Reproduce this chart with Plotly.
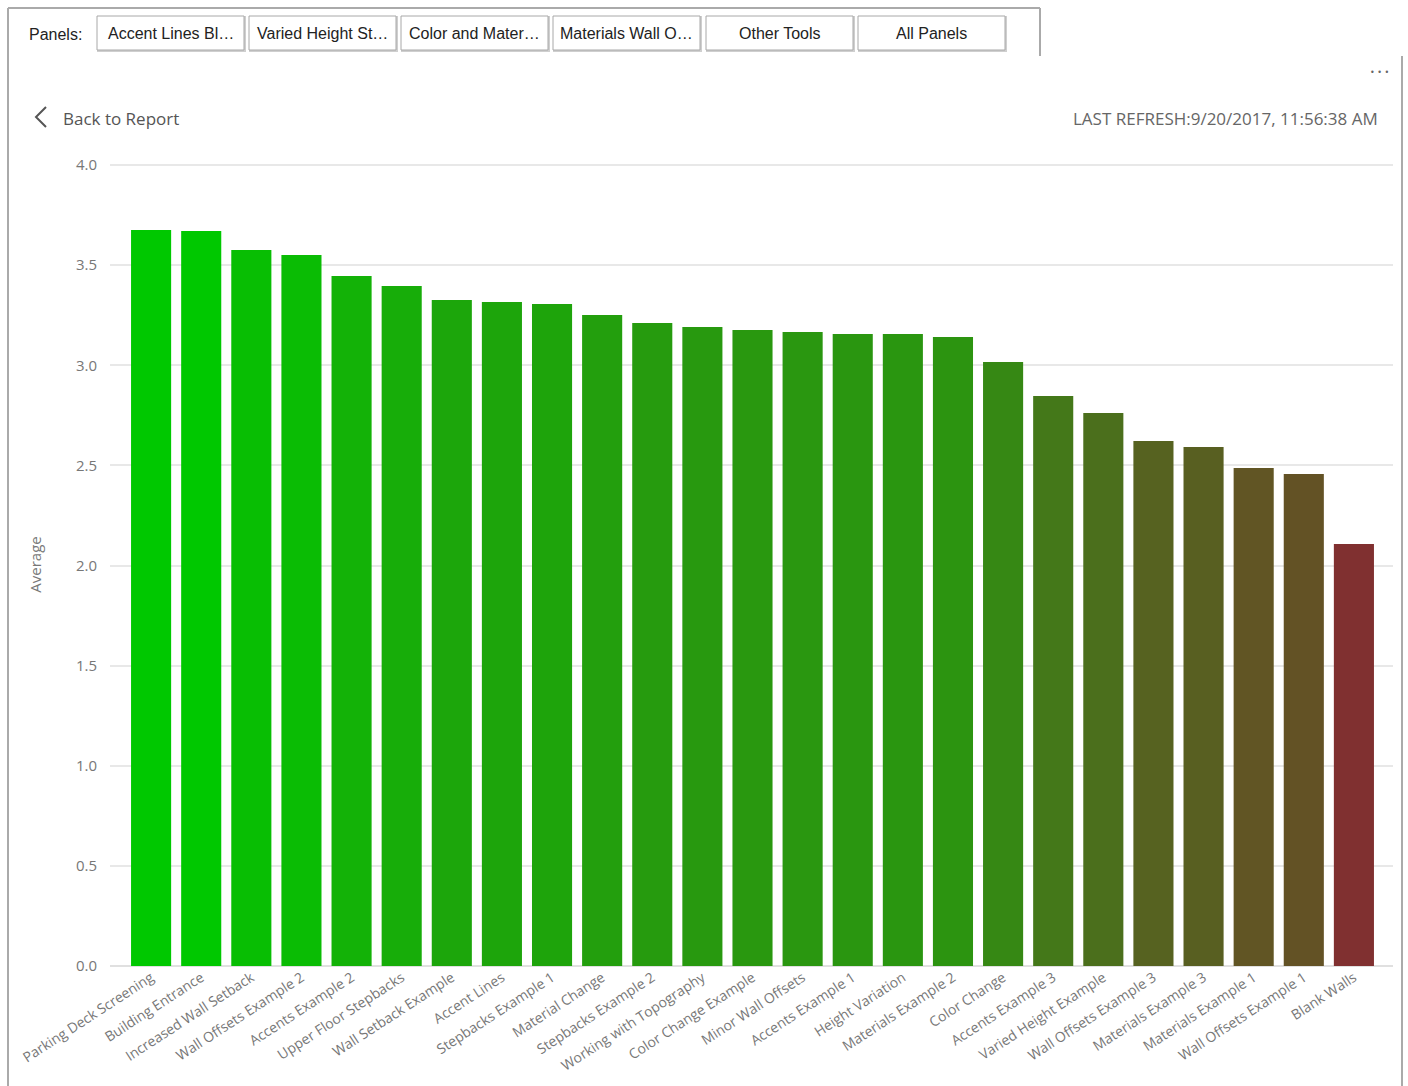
import plotly.graph_objects as go

categories = [
    "Parking Deck Screening", "Building Entrance", "Increased Wall Setback",
    "Wall Offsets Example 2", "Accents Example 2", "Upper Floor Stepbacks",
    "Wall Setback Example", "Accent Lines", "Stepbacks Example 1",
    "Material Change", "Stepbacks Example 2", "Working with Topography",
    "Color Change Example", "Minor Wall Offsets", "Accents Example 1",
    "Height Variation", "Materials Example 2", "Color Change",
    "Accents Example 3", "Varied Height Example", "Wall Offsets Example 3",
    "Materials Example 3", "Materials Example 1", "Wall Offsets Example 1",
    "Blank Walls",
]
averages = [
    3.675, 3.670, 3.575, 3.550, 3.446, 3.396, 3.326, 3.316, 3.306,
    3.251, 3.211, 3.191, 3.176, 3.166, 3.156, 3.156, 3.141, 3.016,
    2.846, 2.761, 2.622, 2.592, 2.487, 2.457, 2.107,
]
y_ticks = [0.0, 0.5, 1.0, 1.5, 2.0, 2.5, 3.0, 3.5, 4.0]
panel_buttons = ["Accent Lines Bl…", "Varied Height St…", "Color and Mater…",
                 "Materials Wall O…", "Other Tools", "All Panels"]

W, H = 1408, 1086
ML, MR, MT, MB = 110, 15, 163, 120
PW, PH = W - ML - MR, H - MT - MB


def px(x):
    return (x - ML) / PW


def py(y):
    return 1 - (y - MT) / PH


fig = go.Figure()
fig.add_trace(go.Bar(
    x=categories, y=averages, width=0.8,
    marker=dict(color=averages, colorscale=[[0, "#803030"], [1, "#00C800"]],
                cmin=min(averages), cmax=max(averages), line=dict(width=0)),
    hovertemplate="%{x}<br>Average: %{y:.2f}<extra></extra>",
))

shapes = []
frame = [((8, 8), (1040, 8)), ((8, 8), (8, 1086)), ((1040, 8), (1040, 56)),
         ((1402, 56), (1402, 1086))]
for (x0, y0), (x1, y1) in frame:
    shapes.append(dict(type="line", xref="paper", yref="paper",
                       x0=px(x0), y0=py(y0), x1=px(x1), y1=py(y1),
                       line=dict(color="#aaaaaa", width=2)))
btn_x = [97, 249, 401, 553, 706, 858]
annotations = []
for bx, label in zip(btn_x, panel_buttons):
    shapes.append(dict(type="rect", xref="paper", yref="paper",
                       x0=px(bx + 1), y0=py(17), x1=px(bx + 148), y1=py(51),
                       line=dict(color="#cfcfcf", width=2)))
    shapes.append(dict(type="rect", xref="paper", yref="paper",
                       x0=px(bx), y0=py(16), x1=px(bx + 147), y1=py(50),
                       line=dict(color="#a8a8a8", width=1), fillcolor="white"))
    annotations.append(dict(text=label, xref="paper", yref="paper",
                            x=px(bx + 73.5), y=py(33), xanchor="center", yanchor="middle",
                            showarrow=False,
                            font=dict(family="Liberation Sans, Arial", size=16, color="#222222")))

annotations += [
    dict(text="Panels:", xref="paper", yref="paper", x=px(27), y=py(34),
         xanchor="left", yanchor="middle", showarrow=False,
         font=dict(family="Liberation Sans, Arial", size=16, color="#222222")),
    dict(text="Back to Report", xref="paper", yref="paper", x=px(61), y=py(118),
         xanchor="left", yanchor="middle", showarrow=False,
         font=dict(family="Open Sans", size=17, color="#555555")),
    dict(text="LAST REFRESH:9/20/2017, 11:56:38 AM", xref="paper", yref="paper",
         x=px(1380), y=py(118), xanchor="right", yanchor="middle", showarrow=False,
         font=dict(family="Open Sans", size=17, color="#666666")),
    dict(text="• • •", xref="paper", yref="paper", x=px(1379), y=py(72),
         xanchor="center", yanchor="middle", showarrow=False,
         font=dict(family="DejaVu Sans", size=8, color="#666666")),
]
shapes.append(dict(type="path", xref="paper", yref="paper",
                   path=f"M {px(46)} {py(107)} L {px(36)} {py(117)} L {px(46)} {py(127)}",
                   line=dict(color="#555555", width=2)))

fig.update_layout(
    width=W, height=H,
    margin=dict(l=ML, r=MR, t=MT, b=MB, pad=0),
    paper_bgcolor="white", plot_bgcolor="white",
    showlegend=False, bargap=0.2,
    font=dict(family="Open Sans", color="#777777"),
    shapes=shapes, annotations=annotations,
    xaxis=dict(range=[-0.82, len(categories) - 1 + 0.78], tickangle=-33,
               tickfont=dict(size=14, color="#777777"), showgrid=False,
               showline=False, ticks="", automargin=False),
    yaxis=dict(range=[0, 4.01], tickvals=y_ticks, tickformat=".1f",
               tickfont=dict(size=15, color="#777777"), gridcolor="#e8e8e8",
               gridwidth=1.5, zeroline=True, zerolinecolor="#e0e0e0", zerolinewidth=1.5,
               ticks="", ticklabelstandoff=12,
               title=dict(text="Average", font=dict(size=15, color="#777777"), standoff=30),
               automargin=False),
)

fig.write_html("out.html", config={"displayModeBar": False},
               post_script="document.body.style.margin='0';")
